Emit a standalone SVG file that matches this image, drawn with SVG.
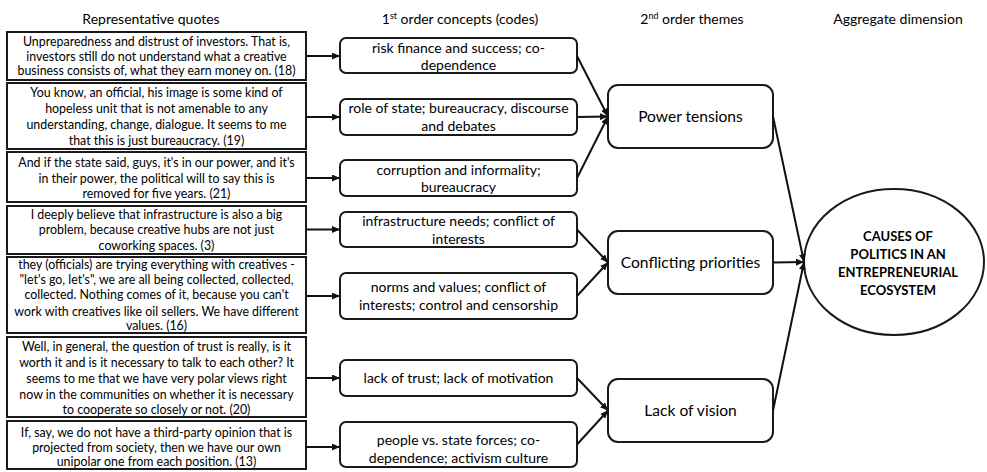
<svg xmlns="http://www.w3.org/2000/svg" width="987" height="472" viewBox="0 0 987 472">
<style>
text{font-family:Lato,"Open Sans","Liberation Sans",sans-serif;fill:#000;text-anchor:middle}
.h{font-size:14px}
.q{font-size:12.4px}
.c{font-size:14px}
.t{font-size:15.6px}
.e{font-size:13px;font-weight:bold}
.qb{fill:#fff;stroke:#1a1a1a;stroke-width:2}
.cb{fill:#fff;stroke:#1a1a1a;stroke-width:2}
.con line{stroke:#111;stroke-width:2;marker-end:url(#ah)}
</style>
<defs>
<marker id="ah" markerUnits="userSpaceOnUse" markerWidth="8" markerHeight="7" refX="8" refY="3.5" orient="auto">
<path d="M0,0 L8,3.5 L0,7 z" fill="#111"/>
</marker>
</defs>
<rect width="987" height="472" fill="#fff"/>
<g id="headers">
<text class="h" x="151" y="23.5">Representative quotes</text>
<text class="h" x="460" y="23.5">1<tspan font-size="9" dy="-5">st</tspan><tspan dy="5"> order concepts (codes)</tspan></text>
<text class="h" x="692" y="23.5">2<tspan font-size="9" dy="-5">nd</tspan><tspan dy="5"> order themes</tspan></text>
<text class="h" x="898" y="23.5">Aggregate dimension</text>
</g>
<g id="q1"><rect class="qb" x="7" y="32" width="299" height="48"/>
<text class="q" x="156.5" y="46">Unpreparedness and distrust of investors. That is,</text>
<text class="q" x="156.5" y="60.5">investors still do not understand what a creative</text>
<text class="q" x="156.5" y="75">business consists of, what they earn money on. (18)</text></g>
<g id="q2"><rect class="qb" x="7" y="83" width="299" height="66"/>
<text class="q" x="156.5" y="96.5">You know, an official, his image is some kind of</text>
<text class="q" x="156.5" y="112.5">hopeless unit that is not amenable to any</text>
<text class="q" x="156.5" y="129">understanding, change, dialogue. It seems to me</text>
<text class="q" x="156.5" y="145">that this is just bureaucracy. (19)</text></g>
<g id="q3"><rect class="qb" x="7" y="152" width="299" height="50"/>
<text class="q" x="156.5" y="166.5">And if the state said, guys, it's in our power, and it's</text>
<text class="q" x="156.5" y="182.5">in their power, the political will to say this is</text>
<text class="q" x="156.5" y="198">removed for five years. (21)</text></g>
<g id="q4"><rect class="qb" x="7" y="206" width="299" height="48"/>
<text class="q" x="156.5" y="218.5">I deeply believe that infrastructure is also a big</text>
<text class="q" x="156.5" y="234">problem, because creative hubs are not just</text>
<text class="q" x="156.5" y="250">coworking spaces. (3)</text></g>
<g id="q5"><rect class="qb" x="7" y="257" width="299" height="76"/>
<text class="q" x="156.5" y="268.5">they (officials) are trying everything with creatives -</text>
<text class="q" x="156.5" y="283.5">"let's go, let's", we are all being collected, collected,</text>
<text class="q" x="156.5" y="298.5">collected. Nothing comes of it, because you can't</text>
<text class="q" x="156.5" y="315.5">work with creatives like oil sellers. We have different</text>
<text class="q" x="156.5" y="330">values. (16)</text></g>
<g id="q6"><rect class="qb" x="7" y="337" width="299" height="80"/>
<text class="q" x="156.5" y="350.5">Well, in general, the question of trust is really, is it</text>
<text class="q" x="156.5" y="366.5">worth it and is it necessary to talk to each other? It</text>
<text class="q" x="156.5" y="383">seems to me that we have very polar views right</text>
<text class="q" x="156.5" y="398.5">now in the communities on whether it is necessary</text>
<text class="q" x="156.5" y="413.5">to cooperate so closely or not. (20)</text></g>
<g id="q7"><rect class="qb" x="7" y="421" width="299" height="48"/>
<text class="q" x="156.5" y="436.5">If, say, we do not have a third-party opinion that is</text>
<text class="q" x="156.5" y="451.5">projected from society, then we have our own</text>
<text class="q" x="156.5" y="466">unipolar one from each position. (13)</text></g>
<g id="c1"><rect class="cb" x="340" y="38" width="237" height="35" rx="6"/>
<text class="c" x="458.5" y="52.5">risk finance and success; co-</text>
<text class="c" x="458.5" y="69.5">dependence</text></g>
<g id="c2"><rect class="cb" x="340" y="99" width="237" height="36" rx="6"/>
<text class="c" x="458.5" y="113">role of state; bureaucracy, discourse</text>
<text class="c" x="458.5" y="130.5">and debates</text></g>
<g id="c3"><rect class="cb" x="340" y="160" width="237" height="36" rx="6"/>
<text class="c" x="458.5" y="174.5">corruption and informality;</text>
<text class="c" x="458.5" y="192">bureaucracy</text></g>
<g id="c4"><rect class="cb" x="340" y="212" width="237" height="35" rx="6"/>
<text class="c" x="458.5" y="225.5">infrastructure needs; conflict of</text>
<text class="c" x="458.5" y="244">interests</text></g>
<g id="c5"><rect class="cb" x="340" y="273" width="237" height="46" rx="6"/>
<text class="c" x="458.5" y="291.5">norms and values; conflict of</text>
<text class="c" x="458.5" y="309.5">interests; control and censorship</text></g>
<g id="c6"><rect class="cb" x="340" y="360" width="237" height="36" rx="6"/>
<text class="c" x="458.5" y="382.5">lack of trust; lack of motivation</text></g>
<g id="c7"><rect class="cb" x="340" y="422" width="237" height="45" rx="6"/>
<text class="c" x="458.5" y="444.5">people vs. state forces; co-</text>
<text class="c" x="458.5" y="462.5">dependence; activism culture</text></g>
<g id="t1"><rect class="cb" x="608" y="85" width="165" height="63" rx="10"/>
<text class="t" x="690.5" y="122">Power tensions</text></g>
<g id="t2"><rect class="cb" x="608" y="231" width="165" height="63" rx="10"/>
<text class="t" x="690.5" y="268">Conflicting priorities</text></g>
<g id="t3"><rect class="cb" x="608" y="379" width="165" height="63" rx="10"/>
<text class="t" x="690.5" y="416">Lack of vision</text></g>
<g id="agg"><ellipse cx="894" cy="262" rx="90" ry="73" fill="#fff" stroke="#1a1a1a" stroke-width="2"/>
<text class="e" x="898" y="240.5">CAUSES OF</text>
<text class="e" x="898" y="258.5">POLITICS IN AN</text>
<text class="e" x="898" y="276.5">ENTREPRENEURIAL</text>
<text class="e" x="898" y="294.5">ECOSYSTEM</text></g>
<g id="connectors" class="con">
<line x1="306" y1="56" x2="340" y2="56"/>
<line x1="306" y1="117" x2="340" y2="117"/>
<line x1="306" y1="178" x2="340" y2="178"/>
<line x1="306" y1="229.5" x2="340" y2="229.5"/>
<line x1="306" y1="296" x2="340" y2="296"/>
<line x1="306" y1="378" x2="340" y2="378"/>
<line x1="306" y1="447" x2="340" y2="447"/>
<line x1="577" y1="56" x2="608" y2="116.5"/>
<line x1="577" y1="117" x2="608" y2="116.5"/>
<line x1="577" y1="178" x2="608" y2="116.5"/>
<line x1="577" y1="229.5" x2="608" y2="262.5"/>
<line x1="577" y1="296" x2="608" y2="262.5"/>
<line x1="577" y1="378" x2="608" y2="410.5"/>
<line x1="577" y1="444.5" x2="608" y2="410.5"/>
<line x1="773" y1="116.5" x2="804" y2="262"/>
<line x1="773" y1="262.5" x2="804" y2="262"/>
<line x1="773" y1="410.5" x2="804" y2="262"/>
</g>
</svg>
